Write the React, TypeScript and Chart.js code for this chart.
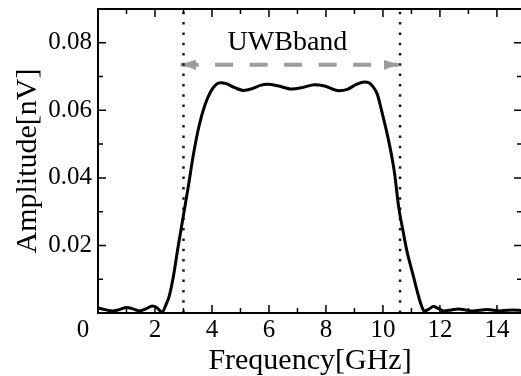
import { useEffect, useRef } from 'react';
import { Chart, registerables } from 'chart.js';

Chart.register(...registerables);

// ---- data ----
const freqGHz = [
  0, 0.25, 0.5, 0.75, 1.0, 1.2, 1.45, 1.7, 1.9, 2.05,
  2.25, 2.4, 2.5, 2.65, 2.8, 3.0, 3.17, 3.35, 3.55, 3.75,
  3.95, 4.15, 4.3, 4.5, 4.8, 5.1, 5.4, 5.7, 5.95, 6.3,
  6.8, 7.2, 7.6, 7.95, 8.45, 8.75, 9.05, 9.35, 9.5, 9.65,
  9.8, 9.95, 10.2, 10.4, 10.55, 10.7, 10.85, 11.05, 11.2, 11.35,
  11.45, 11.6, 11.77, 11.95, 12.12, 12.4, 12.65, 12.9, 13.16, 13.4,
  13.65, 13.9, 14.1, 14.35, 14.56, 14.88,
];
const amplitudeNV = [
  0.0015, 0.0010, 0.0006, 0.0010, 0.0016, 0.0013, 0.0006, 0.0013, 0.0021, 0.0017,
  0.0003, 0.0028, 0.0050, 0.0110, 0.0190, 0.0290, 0.0375, 0.0470, 0.0555, 0.0615,
  0.0655, 0.0677, 0.0682, 0.0679, 0.0667, 0.0659, 0.0664, 0.0674, 0.0677, 0.0673,
  0.0663, 0.0668, 0.0676, 0.0672, 0.0658, 0.0662, 0.0676, 0.0684, 0.0682, 0.0670,
  0.0648, 0.0600, 0.0510, 0.0418, 0.0315, 0.0245, 0.0180, 0.0115, 0.0065, 0.0022,
  0.0006, 0.0011, 0.0019, 0.0013, 0.0006, 0.0009, 0.0012, 0.0009, 0.0006, 0.0008,
  0.0010, 0.0008, 0.0006, 0.0008, 0.0009, 0.0007,
];
const bandEdgesGHz = [3.0, 10.6];
const arrowSpanGHz = [2.9, 10.55];
const arrowLevel = 0.0735;
const bandLabel = 'UWBband';
const bandLabelPos = [6.65, 0.0778];
const xRange = [0, 14.88];
const yRange = [0, 0.09];
const xAxisTitle = 'Frequency[GHz]';
const yAxisTitle = 'Amplitude[nV]';
const zeroLabel = '0';

const SERIF = "'Liberation Serif', 'DejaVu Serif', serif";
const GRAY = '#9c9c9c';
const TICK_SIZE = 25;

function makeArrowHead(): HTMLCanvasElement {
  const L = 15;
  const H = 10;
  const c = document.createElement('canvas');
  c.width = 2 * L;
  c.height = H;
  const g = c.getContext('2d');
  if (g) {
    g.fillStyle = GRAY;
    g.beginPath();
    g.moveTo(0, 0);
    g.lineTo(L, H / 2);
    g.lineTo(0, H);
    g.closePath();
    g.fill();
  }
  return c;
}

const frameTicksPlugin = {
  id: 'frameTicks',
  afterDatasetsDraw(chart: any) {
    const { ctx, chartArea: a, scales } = chart;
    const xs = scales.x;
    const ys = scales.y;
    ctx.save();
    ctx.strokeStyle = '#000';
    ctx.lineWidth = 2;
    ctx.strokeRect(a.left, a.top, a.right - a.left, a.bottom - a.top);
    ctx.lineWidth = 1.5;
    ctx.beginPath();
    xs.ticks.forEach((t: any) => {
      const px = xs.getPixelForValue(t.value);
      const len = Math.round(t.value) % 2 === 0 ? 8 : 5;
      ctx.moveTo(px, a.bottom);
      ctx.lineTo(px, a.bottom - len);
      ctx.moveTo(px, a.top);
      ctx.lineTo(px, a.top + len);
    });
    ys.ticks.forEach((t: any) => {
      const py = ys.getPixelForValue(t.value);
      const len = Math.round(t.value * 100) % 2 === 0 ? 8 : 5;
      ctx.moveTo(a.left, py);
      ctx.lineTo(a.left + len, py);
      ctx.moveTo(a.right, py);
      ctx.lineTo(a.right - len, py);
    });
    ctx.stroke();

    // "0" label of the x axis, set a little left of the corner as in the reference
    ctx.fillStyle = '#000';
    ctx.textAlign = 'center';
    let y0 = a.bottom + 2;
    let base: CanvasTextBaseline = 'top';
    ctx.font = `${TICK_SIZE}px ${SERIF}`;
    if (typeof xs.getLabelItems === 'function') {
      const items = xs.getLabelItems();
      const it = items.find((i: any) => i.label === '2');
      if (it) {
        ctx.font = it.font.string;
        base = it.options.textBaseline;
        y0 = it.options.translation[1] + it.textOffset;
      }
    }
    ctx.textBaseline = base;
    ctx.fillText(zeroLabel, xs.getPixelForValue(0) - 15, y0);

    // band label
    ctx.font = `28px ${SERIF}`;
    ctx.textAlign = 'center';
    ctx.textBaseline = 'alphabetic';
    ctx.fillText(bandLabel, xs.getPixelForValue(bandLabelPos[0]), ys.getPixelForValue(bandLabelPos[1]));
    ctx.restore();
  },
};

export default function App() {
  const ref = useRef<HTMLCanvasElement | null>(null);

  useEffect(() => {
    document.body.style.margin = '0';
    const canvas = ref.current;
    if (!canvas) return;
    const arrowHead = makeArrowHead();
    const curve = freqGHz.map((f, i) => ({ x: f, y: amplitudeNV[i] }));
    const chart = new Chart(canvas, {
      type: 'line',
      data: {
        datasets: [
          {
            data: curve,
            borderColor: '#000',
            borderWidth: 3,
            pointRadius: 0,
            cubicInterpolationMode: 'monotone',
            fill: false,
          },
          ...bandEdgesGHz.map((e) => ({
            data: [{ x: e, y: yRange[0] }, { x: e, y: yRange[1] }],
            borderColor: '#1a1a1a',
            borderWidth: 2.5,
            borderDash: [2.5, 7.8],
            borderCapStyle: 'butt' as const,
            pointRadius: 0,
            fill: false,
          })),
          {
            data: [{ x: arrowSpanGHz[0], y: arrowLevel }, { x: arrowSpanGHz[1], y: arrowLevel }],
            borderColor: GRAY,
            borderWidth: 4,
            borderDash: [18, 16.5],
            borderCapStyle: 'butt' as const,
            pointStyle: arrowHead as any,
            pointRotation: [180, 0],
            pointRadius: 8,
            pointBorderWidth: 0,
            fill: false,
          },
        ] as any,
      },
      options: {
        animation: false,
        responsive: false,
        devicePixelRatio: 1,
        layout: { padding: { top: 9, right: 8, left: 0, bottom: 0 } },
        plugins: { legend: { display: false }, tooltip: { enabled: false } },
        scales: {
          x: {
            type: 'linear',
            min: xRange[0],
            max: xRange[1],
            grid: { display: false, drawTicks: false },
            border: { display: false },
            ticks: {
              stepSize: 1,
              includeBounds: false,
              autoSkip: false,
              maxRotation: 0,
              padding: 2,
              color: '#000',
              font: { family: SERIF, size: TICK_SIZE },
              callback: (v: any) => {
                const n = Math.round(Number(v));
                return n % 2 === 0 && n !== 0 ? String(n) : '';
              },
            },
            title: {
              display: true,
              text: xAxisTitle,
              color: '#000',
              font: { family: SERIF, size: 30, lineHeight: 1 },
              padding: { top: 0, bottom: 0 },
            },
            afterFit: (s: any) => {
              s.height = 63;
              s.paddingLeft = 0;
              s.paddingRight = 0;
            },
          },
          y: {
            type: 'linear',
            min: yRange[0],
            max: yRange[1],
            grid: { display: false, drawTicks: false },
            border: { display: false },
            ticks: {
              stepSize: 0.01,
              includeBounds: false,
              autoSkip: false,
              padding: 6,
              color: '#000',
              font: { family: SERIF, size: TICK_SIZE },
              callback: (v: any) => {
                const n = Math.round(Number(v) * 100);
                return n > 0 && n % 2 === 0 ? (n / 100).toFixed(2) : '';
              },
            },
            title: {
              display: true,
              text: yAxisTitle,
              color: '#000',
              font: { family: SERIF, size: 30 },
              padding: { top: 10, bottom: 0 },
            },
            afterFit: (s: any) => {
              s.width = 98;
              s.paddingTop = 0;
              s.paddingBottom = 0;
            },
          },
        },
      } as any,
      plugins: [frameTicksPlugin],
    });
    return () => chart.destroy();
  }, []);

  return (
    <div style={{ width: 521, height: 376, overflow: 'hidden', position: 'relative' }}>
      <canvas ref={ref} width={530} height={376} style={{ display: 'block' }} />
    </div>
  );
}
